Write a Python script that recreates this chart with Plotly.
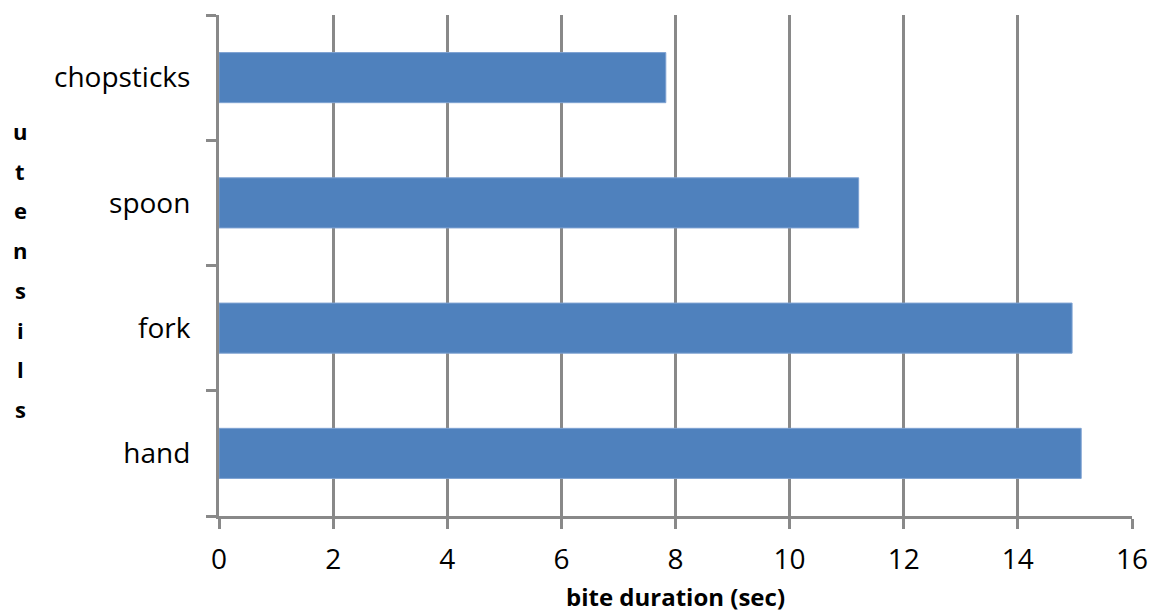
import plotly.graph_objects as go

utensils = ["hand", "fork", "spoon", "chopsticks"]
bite_duration = [15.11, 14.95, 11.21, 7.83]
x_ticks = [0, 2, 4, 6, 8, 10, 12, 14, 16]
y_title = "utensils"

W, H = 1149, 613
L, R, T, B = 219, 17, 15, 97

fig = go.Figure(go.Bar(
    x=bite_duration, y=utensils, orientation="h",
    marker=dict(color="#4F81BD", line=dict(color="#7EA2D2", width=1)),
))

GRAY = "#898989"
fig.update_layout(
    width=W, height=H,
    margin=dict(l=L, r=R, t=T, b=B, autoexpand=False),
    plot_bgcolor="white", paper_bgcolor="white",
    bargap=0.6, showlegend=False,
    font=dict(family="Open Sans", color="black"),
    xaxis=dict(
        range=[0, 16], tickvals=x_ticks, ticktext=[str(v) for v in x_ticks],
        showgrid=True, gridcolor=GRAY, gridwidth=2.5,
        showline=True, linecolor=GRAY, linewidth=3,
        ticks="outside", ticklen=10, tickwidth=3, tickcolor=GRAY,
        tickfont=dict(size=28), ticklabelstandoff=6,
        zeroline=False, automargin=False,
        title=dict(text="<b>bite duration (sec)</b>", font=dict(size=24), standoff=14),
    ),
    yaxis=dict(
        type="category", categoryorder="array", categoryarray=utensils,
        range=[-0.5, 3.5],
        showgrid=False, showline=True, linecolor=GRAY, linewidth=3,
        ticks="outside", ticklen=10, tickwidth=3, tickcolor=GRAY,
        tickson="boundaries",
        tickfont=dict(size=28), ticklabelstandoff=20,
        zeroline=False, automargin=False,
    ),
)

# vertical stacked axis title, one letter per line (page pixel positions)
top_px, step_px = 131, 39.7
for i, ch in enumerate(y_title):
    ypx = top_px + i * step_px
    fig.add_annotation(
        text=f"<b>{ch}</b>", xref="paper", yref="paper",
        x=(20 - L) / (W - L - R), y=1 - (ypx - T) / (H - T - B),
        showarrow=False, font=dict(size=22, family="Open Sans"),
        xanchor="center", yanchor="middle",
    )

fig.write_html(
    "out.html",
    config={"displayModeBar": False},
    post_script="document.body.style.margin='0';document.body.style.overflow='hidden';",
)
